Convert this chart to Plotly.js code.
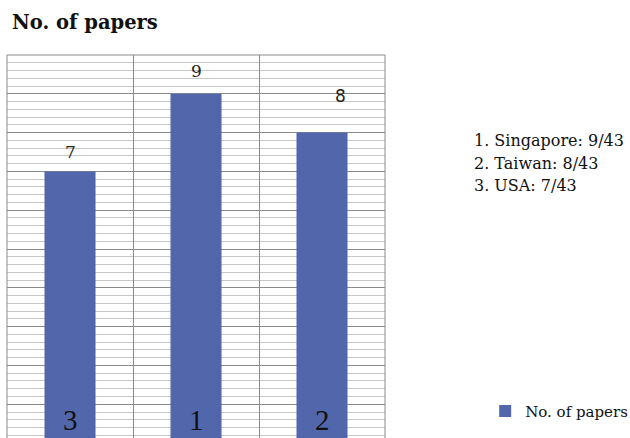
<!DOCTYPE html>
<html>
<head>
<meta charset="utf-8">
<script src="https://cdn.plot.ly/plotly-3.0.1.min.js"></script>
<style>html,body{margin:0;padding:0;background:#fff;}#chart{width:630px;height:438px;}</style>
</head>
<body>
<div id="chart"></div>
<script>
// ---- data ----
var categories = ["3", "1", "2"];
var paperCounts = [7, 9, 8];
var seriesName = "No. of papers";
var chartTitle = "No. of papers";
var rankingLines = ["1. Singapore: 9/43", "2. Taiwan: 8/43", "3. USA: 7/43"];

// ---- styling (not data) ----
var barColor = "#5266ab";
var valueLabelDx = [0, 0, 18];
var valueLabelDy = [19, 23, 37];
var valueLabelFonts = ["DejaVu Serif", "DejaVu Serif", "DejaVu Sans"];
var rankingY = [0.7755, 0.718, 0.658];

var annotations = [];
categories.forEach(function (c, i) {
  // on a category axis, annotations are placed by category index
  annotations.push({
    x: i, y: paperCounts[i], xref: "x", yref: "y",
    text: String(paperCounts[i]), showarrow: false,
    xanchor: "center", yanchor: "middle",
    xshift: valueLabelDx[i], yshift: valueLabelDy[i],
    font: {family: valueLabelFonts[i], size: 17, color: "#222"}
  });
  annotations.push({
    x: i, y: 0, xref: "x", yref: "paper",
    text: c, showarrow: false, xanchor: "center", yanchor: "bottom",
    yshift: 1, borderpad: 0,
    font: {family: "Liberation Serif", size: 29, color: "#111"}
  });
});
rankingLines.forEach(function (t, i) {
  annotations.push({
    x: 1.23, y: rankingY[i], xref: "paper", yref: "paper",
    text: t, showarrow: false, xanchor: "left", yanchor: "middle",
    font: {family: "DejaVu Serif", size: 16, color: "#111"}
  });
});

var trace = {
  type: "bar", x: categories, y: paperCounts, name: seriesName,
  marker: {color: barColor}, showlegend: true, hoverinfo: "none"
};

var borderColor = "#8a8a8a";
var layout = {
  width: 630, height: 438,
  margin: {l: 7, r: 245, t: 55, b: 0, pad: 0, autoexpand: false},
  paper_bgcolor: "#fff", plot_bgcolor: "#fff",
  bargap: 0.595,
  title: {text: chartTitle, xref: "container", yref: "container",
    x: 12 / 630, xanchor: "left", y: 1 - 22 / 438, yanchor: "middle",
    font: {family: "DejaVu Serif", size: 19.5, weight: "bold", color: "#111"}},
  xaxis: {type: "category", categoryorder: "array", categoryarray: categories,
    range: [-0.5, categories.length - 0.5], autorange: false,
    tickson: "boundaries", showgrid: true,
    gridcolor: borderColor, gridwidth: 1, showticklabels: false, ticks: "",
    zeroline: false, showline: false, fixedrange: true},
  yaxis: {range: [0.13, 10], autorange: false, dtick: 1, tick0: 0, showgrid: true,
    gridcolor: borderColor, gridwidth: 1, showticklabels: false, ticks: "",
    zeroline: false, showline: false, fixedrange: true,
    minor: {dtick: 0.2, tick0: 0, showgrid: true, gridcolor: "#c6c6c6", gridwidth: 1}},
  showlegend: true,
  legend: {x: 1.265, y: 0.07, xref: "paper", yref: "paper", xanchor: "left", yanchor: "middle",
    font: {family: "DejaVu Serif", size: 15, color: "#111"}, bgcolor: "rgba(0,0,0,0)",
    itemwidth: 30},
  annotations: annotations,
  shapes: [
    {type: "line", xref: "paper", yref: "paper", x0: 0, x1: 0, y0: 0, y1: 1, line: {color: borderColor, width: 1}, layer: "above"},
    {type: "line", xref: "paper", yref: "paper", x0: 1, x1: 1, y0: 0, y1: 1, line: {color: borderColor, width: 1}, layer: "above"},
    {type: "line", xref: "paper", yref: "paper", x0: 0, x1: 1, y0: 1, y1: 1, line: {color: borderColor, width: 1}, layer: "above"}
  ]
};

Plotly.newPlot("chart", [trace], layout, {staticPlot: true, displayModeBar: false});
</script>
</body>
</html>
